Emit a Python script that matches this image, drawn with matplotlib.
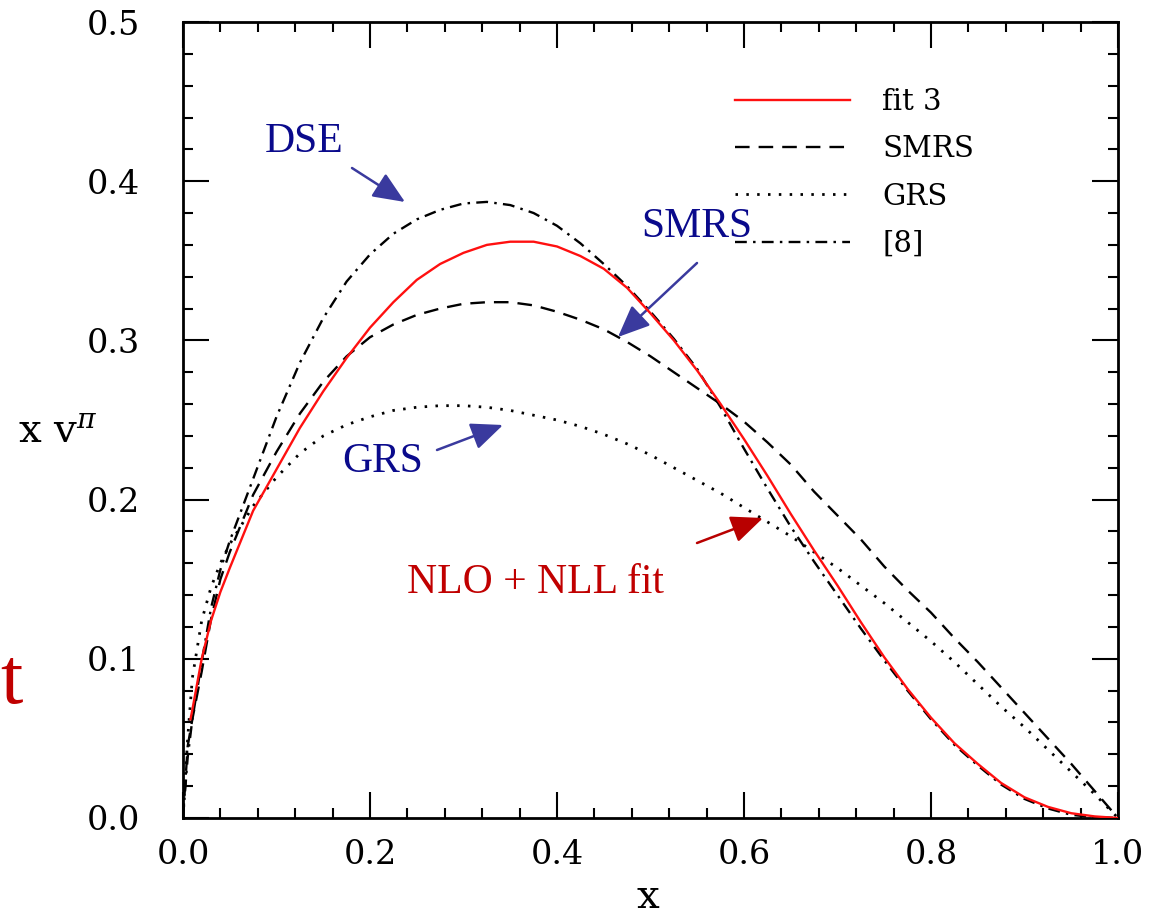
import matplotlib
matplotlib.use('Agg')
import matplotlib.pyplot as plt
from matplotlib.ticker import MultipleLocator

plt.rcParams['lines.scale_dashes'] = False
plt.rcParams['mathtext.fontset'] = 'dejavuserif'

# ---- data ----
x_grid = [0.0, 0.005, 0.01, 0.02, 0.03, 0.04, 0.05, 0.075, 0.1, 0.125, 0.15, 0.175,
          0.2, 0.225, 0.25, 0.275, 0.3, 0.325, 0.35, 0.375, 0.4, 0.425, 0.45, 0.475,
          0.5, 0.525, 0.55, 0.575, 0.6, 0.625, 0.65, 0.675, 0.7, 0.725, 0.75, 0.775,
          0.8, 0.825, 0.85, 0.875, 0.9, 0.925, 0.95, 0.975, 1.0]

x_fit3 = [0.008] + x_grid[2:]
y_fit3 = [0.062, 0.068, 0.100, 0.124, 0.142, 0.157, 0.193, 0.219, 0.245, 0.268, 0.289,
          0.308, 0.324, 0.338, 0.348, 0.355, 0.360, 0.362, 0.362, 0.359, 0.353, 0.345, 0.333,
          0.317, 0.300, 0.281, 0.260, 0.238, 0.215, 0.191, 0.168, 0.146, 0.123, 0.101, 0.081,
          0.063, 0.047, 0.034, 0.022, 0.013, 0.007, 0.003, 0.001, 0.0]

y_smrs = [0.0, 0.045, 0.062, 0.092, 0.125, 0.150, 0.167, 0.203, 0.230, 0.254, 0.274, 0.290,
          0.302, 0.310, 0.316, 0.320, 0.323, 0.324, 0.324, 0.322, 0.318, 0.313, 0.307, 0.299,
          0.290, 0.280, 0.270, 0.260, 0.249, 0.236, 0.222, 0.205, 0.190, 0.175, 0.158, 0.143,
          0.129, 0.113, 0.098, 0.082, 0.066, 0.050, 0.034, 0.017, 0.0]

y_grs = [0.0, 0.050, 0.088, 0.124, 0.145, 0.160, 0.172, 0.196, 0.214, 0.229, 0.240, 0.247,
         0.252, 0.256, 0.258, 0.259, 0.259, 0.258, 0.256, 0.253, 0.250, 0.246, 0.241, 0.235,
         0.228, 0.220, 0.212, 0.204, 0.195, 0.186, 0.177, 0.167, 0.157, 0.146, 0.135, 0.123,
         0.111, 0.098, 0.084, 0.070, 0.057, 0.043, 0.029, 0.015, 0.0]

y_dse = [0.0, 0.038, 0.062, 0.098, 0.132, 0.156, 0.174, 0.213, 0.252, 0.286, 0.314, 0.337,
         0.354, 0.367, 0.376, 0.382, 0.386, 0.387, 0.385, 0.380, 0.372, 0.361, 0.348, 0.334,
         0.318, 0.301, 0.282, 0.258, 0.232, 0.207, 0.183, 0.161, 0.140, 0.119, 0.099, 0.080,
         0.062, 0.046, 0.033, 0.021, 0.012, 0.006, 0.002, 0.0005, 0.0]

series_labels = ['fit 3', 'SMRS', 'GRS', '[8]']
x_ticks = [0.0, 0.2, 0.4, 0.6, 0.8, 1.0]
y_ticks = [0.0, 0.1, 0.2, 0.3, 0.4, 0.5]

# ---- figure ----
W, H = 1153, 914
fig = plt.figure(figsize=(W / 100, H / 100), dpi=100)
ax = fig.add_axes([183 / W, 1 - 818 / H, 935 / W, 796 / H])

ax.plot(x_fit3, y_fit3, color='#ff1010', lw=1.7, label=series_labels[0], zorder=5)
ax.plot(x_grid, y_smrs, color='black', lw=1.7, linestyle=(0, (10.5, 6.5)), label=series_labels[1])
ax.plot(x_grid, y_grs, color='black', lw=2.0, linestyle=(0, (1.8, 6.0)), label=series_labels[2])
ax.plot(x_grid, y_dse, color='black', lw=1.7, linestyle=(0, (8.5, 4.5, 1.8, 4.5)), label=series_labels[3])

ax.set_xlim(0, 1.0)
ax.set_ylim(0, 0.5)
ax.set_xticks(x_ticks)
ax.set_yticks(y_ticks)
ax.set_xticklabels([f'{v:.1f}' for v in x_ticks])
ax.set_yticklabels([f'{v:.1f}' for v in y_ticks])
ax.xaxis.set_minor_locator(MultipleLocator(0.04))
ax.yaxis.set_minor_locator(MultipleLocator(0.02))
ax.tick_params(which='both', direction='in', top=True, right=True, width=1.5, colors='black')
ax.tick_params(which='major', length=19)
ax.tick_params(which='minor', length=7)
ax.tick_params(axis='x', which='major', pad=15)
ax.tick_params(axis='y', which='major', pad=31)
for lab in ax.get_xticklabels() + ax.get_yticklabels():
    lab.set_fontfamily('DejaVu Serif')
    lab.set_fontsize(24)
for sp in ax.spines.values():
    sp.set_linewidth(2.0)

leg = ax.legend(loc='upper left', bbox_to_anchor=((735 - 183) / 935, (818 - 88) / 796),
                frameon=False, borderpad=0, borderaxespad=0, handlelength=3.95,
                handletextpad=1.1, labelspacing=0.66,
                prop={'family': 'DejaVu Serif', 'size': 21})

def ftext(px, py, s, **kw):
    fig.text(px / W, (H - py) / H, s, va='baseline', ha='left', **kw)

# axis labels
ftext(18, 442, r'x v$^{\pi}$', family='DejaVu Serif', fontsize=29)
fig.text(648 / W, (H - 908) / H, 'x', va='baseline', ha='center', family='DejaVu Serif', fontsize=29)

# annotations
blue_t = '#0a0a8c'
blue_a = '#3a3a9e'
red_t = '#c00000'
red_a = '#b80000'
ann_font = dict(family='Liberation Serif', fontsize=30)
ftext(265, 152, 'DSE', color=blue_t, **ann_font)
ftext(641, 237, 'SMRS', color=blue_t, **ann_font)
ftext(342, 472, 'GRS', color=blue_t, **ann_font)
ftext(407, 593, 'NLO + NLL fit', color=red_t, **ann_font)
ftext(0, 703, 't', color=red_t, family='Liberation Serif', fontsize=58)

def arrow(x0, y0, x1, y1, color):
    ax.annotate('', xy=(x1, H - y1), xycoords='figure pixels',
                xytext=(x0, H - y0), textcoords='figure pixels',
                arrowprops=dict(arrowstyle='-|>,head_length=0.7,head_width=0.3',
                                mutation_scale=28, color=color, lw=1.8,
                                shrinkA=0, shrinkB=0),
                annotation_clip=False)

arrow(352, 168, 405, 202, blue_a)
arrow(697, 263, 618, 337, blue_a)
arrow(437, 450, 503, 425, blue_a)
arrow(697, 543, 763, 518, red_a)

fig.savefig('out.png', dpi=100)
